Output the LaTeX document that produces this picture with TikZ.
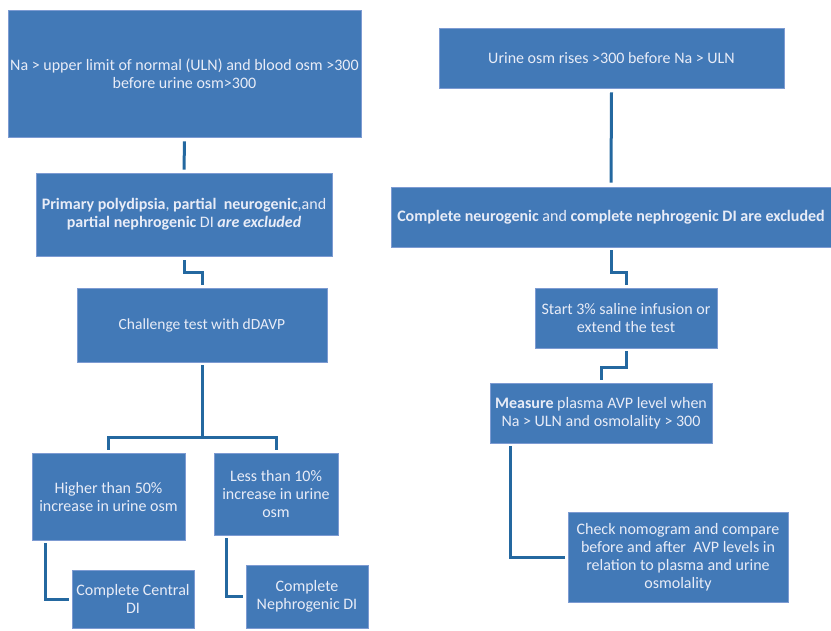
\documentclass[tikz,border=0pt]{standalone}
\usepackage{fontspec}
\setmainfont{Carlito}
\usetikzlibrary{calc}
\definecolor{boxfill}{RGB}{66,121,183}
\definecolor{boxline}{RGB}{125,155,210}
\definecolor{connclr}{RGB}{36,104,160}
\definecolor{txtclr}{RGB}{232,236,247}
\tikzset{
  fbox/.style={rectangle, fill=boxfill, draw=boxline, line width=0.8pt,
    text=txtclr, align=center, inner sep=1pt,
    font=\fontsize{16}{18}\selectfont},
  conn/.style={draw=connclr, line width=3pt}
}
\begin{document}
\begin{tikzpicture}[x=1pt,y=-1pt]
\useasboundingbox (0,0) rectangle (831,630);
% left column
\node[fbox, minimum width=353pt, minimum height=127pt] (A) at (184.5,73.5)
  {Na > upper limit of normal (ULN) and blood osm >300\\before urine osm>300};
\node[fbox, minimum width=296pt, minimum height=83pt] (B) at (184,214.5)
  {\textbf{Primary polydipsia}, \textbf{partial\ \ neurogenic},and\\\textbf{partial nephrogenic} DI \textbf{\textit{are excluded}}};
\node[fbox, minimum width=250pt, minimum height=74pt, font=\fontsize{15.5}{18}\selectfont] (C) at (202,325)
  {Challenge test with dDAVP};
\node[fbox, minimum width=153pt, minimum height=87pt] (D) at (108.5,496.5)
  {Higher than 50\%\\increase in urine osm};
\node[fbox, minimum width=124pt, minimum height=82pt] (E) at (276,494)
  {Less than 10\%\\increase in urine\\osm};
\node[fbox, minimum width=122pt, minimum height=58pt] (F) at (133,599)
  {Complete Central\\DI};
\node[fbox, minimum width=122pt, minimum height=63pt] (G) at (307,596.5)
  {Complete\\Nephrogenic DI};
% right column
\node[fbox, minimum width=345pt, minimum height=60pt] (H) at (611.5,58)
  {Urine osm rises >300 before Na > ULN};
\node[fbox, minimum width=440pt, minimum height=60pt] (I) at (611,217)
  {\textbf{Complete neurogenic} and \textbf{complete nephrogenic DI are excluded}};
\node[fbox, minimum width=182pt, minimum height=60pt] (J) at (626,318)
  {Start 3\% saline infusion or\\extend the test};
\node[fbox, minimum width=222pt, minimum height=60pt] (K) at (601,413)
  {\textbf{Measure} plasma AVP level when\\Na > ULN and osmolality > 300};
\node[fbox, minimum width=220pt, minimum height=90pt] (L) at (678,557)
  {Check nomogram and compare\\before and after\ \ AVP levels in\\relation to plasma and urine\\osmolality};
% connectors left
\draw[conn] ([yshift=-4pt]A.south) -- ([yshift=3pt]B.north);
\draw[conn] ([yshift=-4pt]B.south) -- ++(0,12) -| ([yshift=3pt]C.north);
\draw[conn] ([yshift=-3pt]C.south) -- ([yshift=15pt]C.south |- D.north);
\draw[conn] ([yshift=3pt]D.north) -- ++(0,-12) -| ([yshift=3pt]E.north);
\draw[conn] ([xshift=-63.5pt,yshift=-3pt]D.south) |- ([xshift=-3pt]F.west);
\draw[conn] ([xshift=-50pt,yshift=-3pt]E.south) |- ([xshift=-3pt]G.west);
% connectors right
\draw[conn] ([yshift=-4pt]H.south) -- ([yshift=4pt]I.north);
\draw[conn] ([yshift=-3pt]I.south) -- ++(0,22) -| ([yshift=3pt]J.north);
\draw[conn] ([yshift=-3pt]J.south) -- ++(0,16) -| ([yshift=3pt]K.north);
\draw[conn] ([xshift=-91pt,yshift=-3pt]K.south) |- ([xshift=-3pt]L.west);
\end{tikzpicture}
\end{document}
